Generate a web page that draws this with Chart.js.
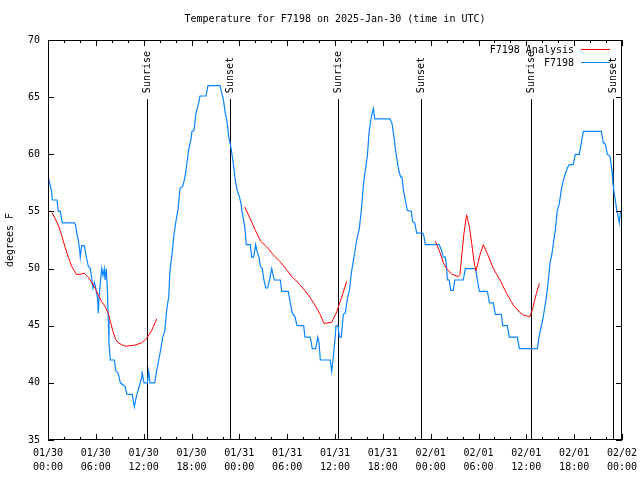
<!DOCTYPE html>
<html>
<head>
<meta charset="utf-8">
<script src="https://cdn.jsdelivr.net/npm/chart.js@4"></script>
<style>
  body { margin: 0; background: #fff; }
  canvas { display: block; }
</style>
</head>
<body>
<canvas id="chart" width="640" height="480"></canvas>
<script>
// hours since 01/30 00:00 UTC
const obsHours = [
    0.04, 0.21, 0.46, 0.54, 1.13, 1.29, 1.54, 1.79, 3.30, 3.47, 3.64, 3.80, 3.98, 4.05, 4.23, 4.55,
    4.80, 5.06, 5.31, 5.48, 5.64, 5.81, 5.90, 6.06, 6.23, 6.31, 6.40, 6.56, 6.74, 6.90, 7.06, 7.15,
    7.31, 7.46, 7.56, 7.65, 7.81, 8.32, 8.49, 8.82, 9.07, 9.66, 9.91, 10.57, 10.83, 11.08, 11.33, 11.75,
    11.79, 12.04, 12.46, 12.63, 12.79, 13.38, 13.64, 13.89, 14.14, 14.39, 14.64, 14.89, 15.14, 15.30,
    15.55, 15.81, 16.06, 16.31, 16.56, 16.90, 17.15, 17.31, 17.65, 17.90, 18.06, 18.31, 18.57, 18.90,
    19.07, 19.82, 20.07, 21.58, 21.74, 21.99, 22.24, 22.49, 22.67, 22.83, 22.99, 23.24, 23.50, 23.75,
    24.00, 24.21, 24.37, 24.55, 24.71, 24.87, 25.38, 25.55, 25.80, 26.05, 26.22, 26.47, 26.63, 26.88,
    27.06, 27.31, 27.56, 27.81, 28.06, 28.22, 28.39, 29.14, 29.32, 30.14, 30.39, 30.64, 30.98, 31.23,
    32.07, 32.24, 32.90, 33.15, 33.58, 33.83, 34.00, 34.16, 35.41, 35.59, 35.75, 35.96, 36.13, 36.38,
    36.54, 36.79, 37.04, 37.29, 37.54, 37.80, 38.05, 38.38, 38.72, 39.05, 39.30, 39.55, 39.80, 40.05,
    40.30, 40.56, 40.81, 40.98, 42.90, 43.15, 43.40, 43.65, 43.99, 44.24, 44.41, 44.57, 44.82, 45.07,
    45.57, 45.75, 46.00, 46.25, 47.00, 47.17, 47.33, 49.08, 49.34, 49.59, 49.84, 50.01, 50.09, 50.34,
    50.51, 50.84, 51.02, 52.09, 52.35, 53.60, 53.78, 54.03, 54.10, 55.11, 55.28, 55.36, 55.86, 56.11,
    56.86, 57.03, 57.61, 57.87, 58.87, 59.12, 61.38, 61.59, 62.05, 62.22, 62.47, 62.72, 62.97, 63.22,
    63.39, 63.64, 63.89, 64.14, 64.39, 64.64, 64.89, 65.14, 65.39, 65.89, 66.14, 66.64, 66.90, 67.15,
    69.41, 69.66, 69.91, 70.16, 70.50, 70.75, 70.84, 71.00, 71.16, 71.34, 71.50, 71.66, 71.81, 72.00
];
const obsTemps = [
    58, 57.5, 56.7, 56, 56, 55, 55, 54, 54, 53.8, 53, 52.5, 51.6, 51, 52, 52,
    51, 50.2, 50, 49.2, 48.3, 48.8, 48.6, 48, 47.3, 46.1, 47.5, 48.7, 50, 49.4, 50, 49,
    50, 48, 45.5, 43.5, 42, 42, 41.1, 40.8, 40, 39.7, 39, 39, 37.9, 38.8, 39.4, 40.5,
    41, 40, 40, 41, 40, 40, 41.1, 42, 42.9, 44, 44.5, 46.4, 47.5, 49.8,
    51.2, 53, 54.2, 55.2, 57, 57.2, 57.9, 58.6, 60.4, 61.2, 62, 62.1, 63.6, 64.5,
    65.1, 65.1, 66, 66, 65.5, 64.8, 63.6, 62.7, 61.5, 61, 60.4, 59.2, 57.7, 56.8,
    56.3, 55.7, 54.8, 54.2, 53.5, 52.1, 52.1, 51, 51, 52.1, 51.5, 51, 50.2, 50,
    49.1, 48.3, 48.3, 49.1, 50, 49.5, 49, 49, 48, 48, 47, 46.1, 45.8, 45,
    45, 44, 44, 43, 43, 44, 43.5, 42, 42, 41, 42, 43.5, 45, 45,
    44, 44, 46, 46.1, 47.3, 48.1, 49.6, 51, 52.5, 53.5, 55.1, 57.2, 58.6, 59.8,
    62.1, 63.3, 64, 63.1, 63.1, 62.7, 61.5, 60.1, 58.6, 58, 58, 56.9, 56, 55.1,
    55, 54.1, 54, 53.1, 53.1, 52.8, 52.1, 52.1, 51.6, 51, 51, 50, 49, 49,
    48.1, 48.1, 49, 49, 50, 50, 49.4, 48.3, 48, 48, 47.4, 47, 47, 46,
    46, 45, 45, 44, 44, 43, 43, 44, 45.5, 46.2, 47.3, 48.7, 50.5, 51.3,
    52.2, 53.4, 55.1, 55.7, 56.9, 57.7, 58.3, 58.8, 59.1, 59.1, 60, 60, 61, 62,
    62, 61, 60.9, 60, 59.8, 58.5, 57.6, 56.7, 56, 55.1, 54.6, 54, 55, 55
];

// analysis runs, null breaks the line between runs
const anaHours = [
    0.50, 0.88, 1.29, 1.72, 2.13, 2.55, 2.97, 3.55, 4.05, 4.55, 4.98, 5.39, 5.90, 6.31, 6.74, 7.15,
    7.56, 7.81, 8.15, 8.49, 8.82, 9.66, 10.91, 11.75, 12.38, 13.01, 13.64,
    18,
    24.67, 25.34, 25.97, 26.68, 27.43, 28.26, 29.10, 29.94, 30.57, 31.61, 32.65, 33.49, 34.12, 34.62,
    35.59, 36.21, 36.84, 37.47,
    42,
    48.58, 49.17, 49.59, 50.01, 50.64, 51.47, 51.68, 51.89, 52.18, 52.50, 52.85, 53.15, 53.44, 53.69,
    54.19, 54.60, 55.11, 55.86, 56.70, 57.54, 58.37, 59.12, 59.71, 60.46, 60.80, 61.21, 61.63
];
const anaTemps = [
    54.9, 54.4, 53.8, 52.9, 51.9, 51, 50.2, 49.5, 49.5, 49.6, 49.3, 48.9, 48.3, 47.7, 47.1, 46.7,
    46.1, 45.4, 44.5, 43.8, 43.5, 43.2, 43.3, 43.5, 43.9, 44.6, 45.6,
    null,
    55.4, 54.4, 53.4, 52.4, 51.9, 51.2, 50.6, 49.9, 49.3, 48.6, 47.7, 46.8, 46, 45.2,
    45.3, 46.2, 47.5, 48.9,
    null,
    52.4, 51.4, 50.5, 50, 49.5, 49.3, 49.5, 51.1, 53.1, 54.7, 53.7, 52.2, 50.6, 49.8,
    51.2, 52.1, 51.3, 50, 49, 47.8, 46.8, 46.2, 45.9, 45.8, 46.5, 47.7, 48.7
];

const sunHours = [12.42, 22.77, 36.38, 46.83, 60.55, 70.91];
const sunLabels = ['Sunrise', 'Sunset', 'Sunrise', 'Sunset', 'Sunrise', 'Sunset'];

const dayLabels = ['01/30', '01/31', '02/01', '02/02'];
const hourLabels = ['00:00', '06:00', '12:00', '18:00'];

const FONT = '"DejaVu Sans Mono", "Liberation Mono", monospace';

const toPoints = (xs, ys) => xs.map((h, i) => ({x: h, y: ys[i]}));

const gnuplotLook = {
    id: 'gnuplotLook',
    beforeDatasetsDraw(c) {
        const {ctx, chartArea: a, scales: {x, y}} = c;
        ctx.save();
        ctx.strokeStyle = '#000';
        ctx.fillStyle = '#000';
        ctx.lineWidth = 1;
        ctx.font = '10px ' + FONT;
        ctx.textAlign = 'left';
        ctx.textBaseline = 'middle';
        const top = y.getPixelForValue(65) + 2;
        sunHours.forEach((h, i) => {
            const px = Math.round(x.getPixelForValue(h)) + 0.5;
            ctx.beginPath();
            ctx.moveTo(px, top);
            ctx.lineTo(px, a.bottom);
            ctx.stroke();
            ctx.save();
            ctx.translate(px, top - 6);
            ctx.rotate(-Math.PI / 2);
            ctx.fillText(sunLabels[i], 0, 0);
            ctx.restore();
        });
        ctx.restore();
    },
    afterDraw(c) {
        const {ctx, chartArea: a, scales: {x, y}} = c;
        ctx.save();
        ctx.strokeStyle = '#000';
        ctx.fillStyle = '#000';
        ctx.lineWidth = 1;
        ctx.strokeRect(a.left + 0.5, a.top + 0.5, a.width - 1, a.height - 1);

        // inward ticks, mirrored
        ctx.beginPath();
        x.ticks.forEach(t => {
            const px = Math.round(x.getPixelForValue(t.value)) + 0.5;
            const len = t.value % 6 === 0 ? 6 : 3;
            ctx.moveTo(px, a.bottom);
            ctx.lineTo(px, a.bottom - len);
            ctx.moveTo(px, a.top);
            ctx.lineTo(px, a.top + len);
        });
        y.ticks.forEach(t => {
            const py = Math.round(y.getPixelForValue(t.value)) + 0.5;
            ctx.moveTo(a.left, py);
            ctx.lineTo(a.left + 6, py);
            ctx.moveTo(a.right, py);
            ctx.lineTo(a.right - 6, py);
        });
        ctx.stroke();

        ctx.font = '10px ' + FONT;
        ctx.textBaseline = 'middle';
        ctx.textAlign = 'center';
        ctx.fillText('Temperature for F7198 on 2025-Jan-30 (time in UTC)', (a.left + a.right) / 2, 19);

        // legend, text on the left of the sample line
        ctx.textAlign = 'right';
        c.data.datasets.forEach((ds, i) => {
            const ly = 49.5 + i * 13;
            ctx.fillStyle = '#000';
            ctx.fillText(ds.label, 574, ly + 1);
            ctx.strokeStyle = ds.borderColor;
            ctx.beginPath();
            ctx.moveTo(581, ly);
            ctx.lineTo(610, ly);
            ctx.stroke();
        });
        ctx.restore();
    }
};

const chart = new Chart(document.getElementById('chart').getContext('2d'), {
    type: 'line',
    data: {
        datasets: [
            {
                label: 'F7198 Analysis',
                data: toPoints(anaHours, anaTemps),
                borderColor: '#ff0000',
                borderWidth: 1,
                pointRadius: 0,
                tension: 0,
                spanGaps: false,
            },
            {
                label: 'F7198',
                data: toPoints(obsHours, obsTemps),
                borderColor: '#0a84ff',
                borderWidth: 1.2,
                pointRadius: 0,
                tension: 0,
            },
        ],
    },
    options: {
        responsive: false,
        animation: false,
        layout: { padding: { top: 40, right: 18, left: 0, bottom: 0 } },
        plugins: {
            legend: { display: false },
            tooltip: { enabled: false },
        },
        scales: {
            x: {
                type: 'linear',
                min: 0,
                max: 72,
                grid: { display: false, drawTicks: false },
                border: { display: false },
                ticks: {
                    stepSize: 2,
                    autoSkip: false,
                    maxRotation: 0,
                    padding: 6,
                    color: '#000',
                    font: { family: FONT, size: 10, lineHeight: 1.4 },
                    callback: v => v % 6 === 0
                        ? [dayLabels[Math.floor(v / 24)], hourLabels[(v % 24) / 6]]
                        : '',
                },
                afterFit: s => {
                    s.height = 40;
                    s.paddingLeft = 0;
                    s.paddingRight = 0;
                },
            },
            y: {
                min: 35,
                max: 70,
                grid: { display: false, drawTicks: false },
                border: { display: false },
                ticks: {
                    stepSize: 5,
                    padding: 8,
                    color: '#000',
                    font: { family: FONT, size: 10 },
                },
                title: {
                    display: true,
                    text: 'degrees F',
                    color: '#000',
                    font: { family: FONT, size: 10 },
                },
                afterFit: s => {
                    s.width = 48;
                    s.paddingTop = 0;
                    s.paddingBottom = 0;
                },
            },
        },
    },
    plugins: [gnuplotLook],
});
</script>
</body>
</html>
